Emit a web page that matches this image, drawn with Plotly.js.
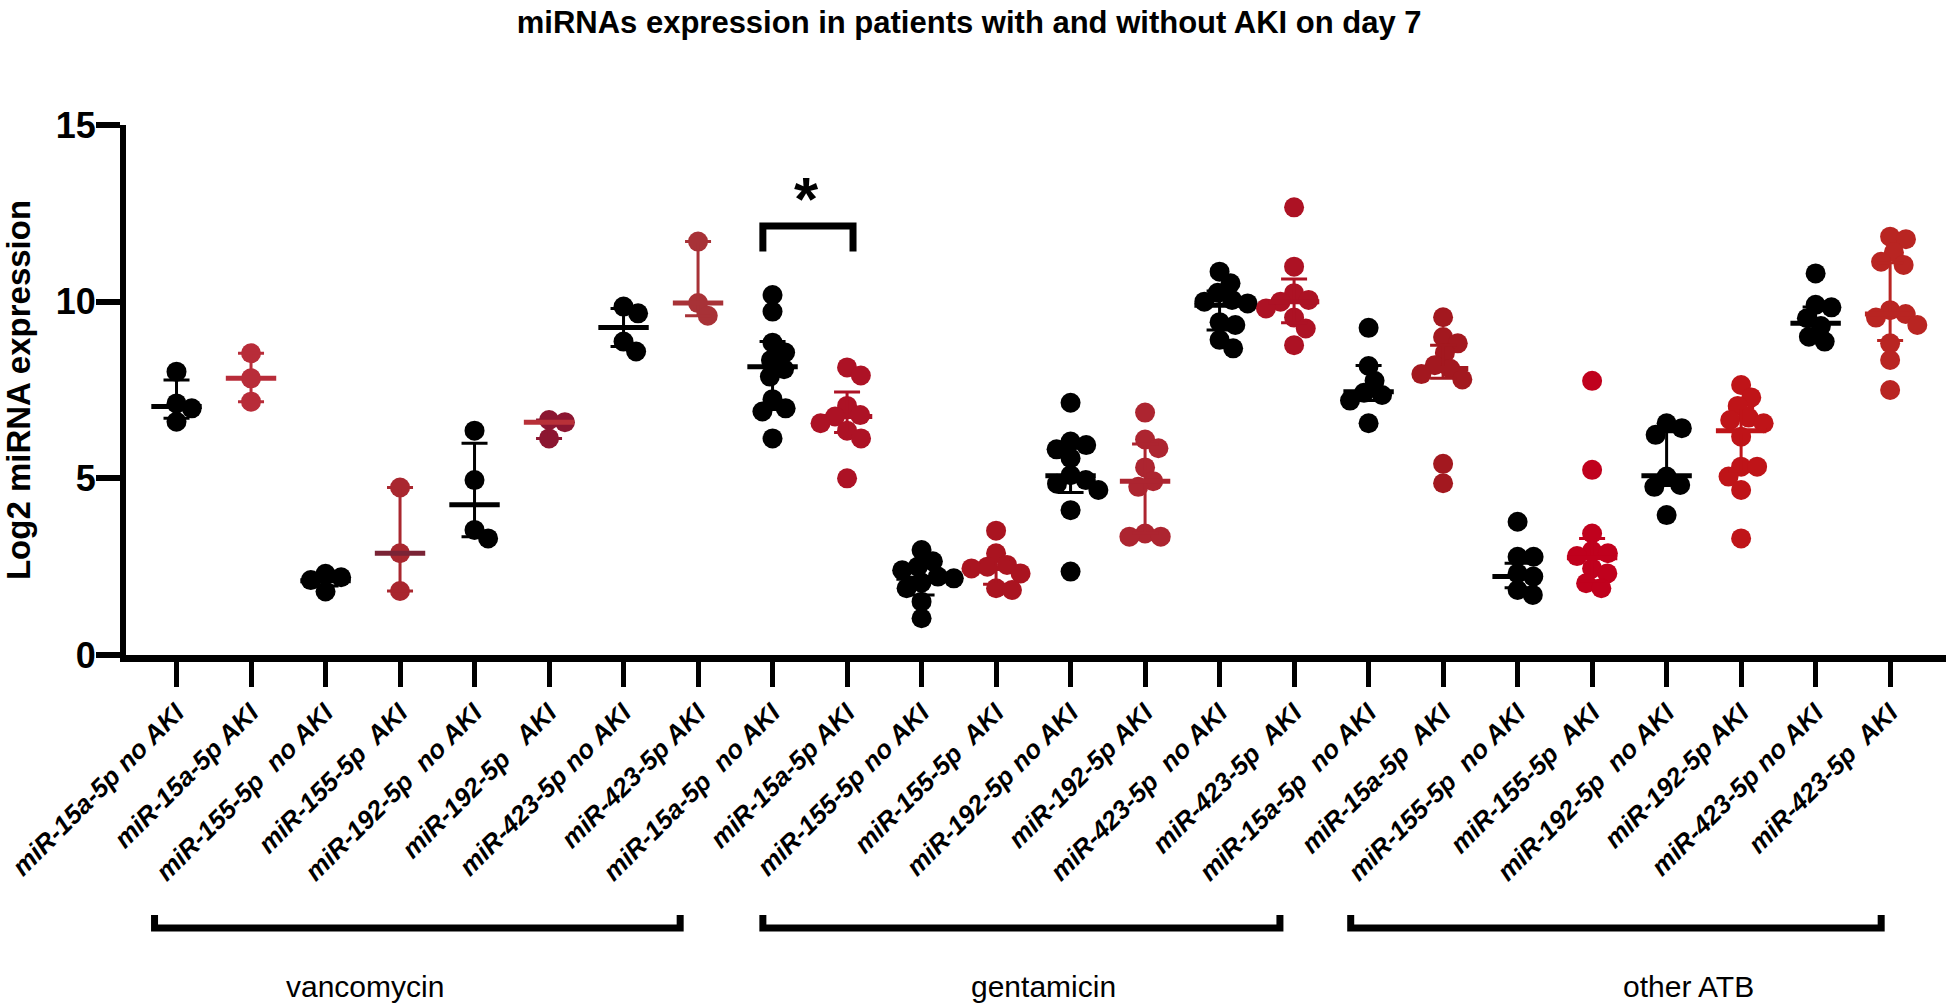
<!DOCTYPE html>
<html>
<head>
<meta charset="utf-8">
<script src="https://cdn.plot.ly/plotly-3.0.1.min.js"></script>
<style>html,body{margin:0;padding:0;background:#fff}#chart{width:1950px;height:1004px}</style>
</head>
<body>
<div id="chart"></div>
<script>
// ---------------- DATA ----------------
const categories = [
  "miR-15a-5p no AKI", "miR-15a-5p AKI", "miR-155-5p  no AKI", "miR-155-5p  AKI",
  "miR-192-5p  no AKI", "miR-192-5p   AKI", "miR-423-5p no AKI", "miR-423-5p AKI",
  "miR-15a-5p  no AKI", "miR-15a-5p AKI", "miR-155-5p no AKI", "miR-155-5p  AKI",
  "miR-192-5p no AKI", "miR-192-5p AKI", "miR-423-5p  no AKI", "miR-423-5p  AKI",
  "miR-15a-5p  no AKI", "miR-15a-5p  AKI", "miR-155-5p  no AKI", "miR-155-5p  AKI",
  "miR-192-5p  no AKI", "miR-192-5p AKI", "miR-423-5p no AKI", "miR-423-5p  AKI"
];
const groupLabels = ["vancomycin", "gentamicin", "other ATB"];

// vancomycin
const van_15a_noAKI  = [8.02, 7.12, 6.98, 6.60];
const van_15a_AKI    = [8.54, 7.83, 7.17];
const van_155_noAKI  = [2.30, 2.20, 2.12, 1.80];
const van_155_AKI    = [4.74, 2.88, 1.81];
const van_192_noAKI  = [6.35, 4.95, 3.54, 3.30];
const van_192_AKI    = [6.65, 6.59, 6.13];
const van_423_noAKI  = [9.86, 9.67, 8.87, 8.59];
const van_423_AKI    = [11.70, 9.96, 9.60];
// gentamicin
const gen_15a_noAKI  = [10.19, 9.72, 8.84, 8.56, 8.35, 8.09, 7.88, 7.24, 6.98, 6.89, 6.13];
const gen_15a_AKI    = [8.14, 7.91, 7.05, 6.79, 6.75, 6.56, 6.35, 6.13, 5.00];
const gen_155_noAKI  = [2.97, 2.65, 2.50, 2.40, 2.22, 2.17, 2.05, 1.89, 1.51, 1.04];
const gen_155_AKI    = [3.52, 2.88, 2.55, 2.50, 2.45, 2.31, 1.89, 1.84];
const gen_192_noAKI  = [7.14, 6.04, 5.94, 5.82, 5.57, 5.09, 4.95, 4.85, 4.67, 4.10, 2.36];
const gen_192_AKI    = [6.86, 6.10, 5.85, 5.31, 4.92, 4.76, 3.44, 3.35, 3.35];
const gen_423_noAKI  = [10.85, 10.52, 10.25, 10.05, 10.00, 9.95, 9.42, 9.34, 8.92, 8.68];
const gen_423_AKI    = [12.67, 10.99, 10.24, 10.05, 10.00, 9.81, 9.55, 9.24, 8.77];
// other ATB
const oth_15a_noAKI  = [9.26, 8.18, 7.76, 7.42, 7.36, 7.20, 6.56];
const oth_15a_AKI    = [9.56, 9.00, 8.82, 8.55, 8.20, 8.10, 7.95, 7.80, 5.41, 4.86];
const oth_155_noAKI  = [3.77, 2.78, 2.78, 2.31, 2.22, 1.84, 1.70];
const oth_155_AKI    = [7.76, 5.24, 3.44, 2.95, 2.88, 2.80, 2.45, 2.31, 2.03, 1.89];
const oth_192_noAKI  = [6.56, 6.42, 6.23, 5.05, 4.81, 4.76, 3.96];
const oth_192_AKI    = [7.64, 7.29, 7.05, 6.72, 6.65, 6.56, 6.18, 5.33, 5.33, 5.05, 4.67, 3.30];
const oth_423_noAKI  = [10.80, 9.91, 9.84, 9.53, 9.31, 9.01, 8.87];
const oth_423_AKI    = [11.84, 11.77, 11.40, 11.13, 11.04, 9.76, 9.65, 9.55, 9.34, 8.82, 8.35, 7.50];

// median and interquartile range
const medians = [7.03, 7.83, 2.10, 2.88, 4.25, 6.59, 9.27, 9.96,
                 8.16, 6.75, 2.17, 2.45, 5.07, 4.92, 9.90, 10.00,
                 7.45, 8.11, 2.22, 2.75, 5.07, 6.35, 9.39, 9.65];
const q1 =      [6.70, 7.17, 1.95, 1.81, 3.35, 6.13, 8.73, 9.60,
                 6.95, 6.30, 1.70, 2.00, 4.60, 3.45, 9.20, 9.40,
                 7.20, 7.83, 1.90, 2.10, 4.80, 5.20, 9.10, 8.90];
const q3 =      [7.78, 8.54, 2.25, 4.74, 5.99, 6.65, 9.81, 11.70,
                 8.87, 7.44, 2.50, 2.70, 5.85, 5.97, 10.30, 10.64,
                 8.19, 8.77, 2.60, 3.30, 6.32, 6.99, 9.85, 11.10];

const series = [
  van_15a_noAKI, van_15a_AKI, van_155_noAKI, van_155_AKI, van_192_noAKI, van_192_AKI, van_423_noAKI, van_423_AKI,
  gen_15a_noAKI, gen_15a_AKI, gen_155_noAKI, gen_155_AKI, gen_192_noAKI, gen_192_AKI, gen_423_noAKI, gen_423_AKI,
  oth_15a_noAKI, oth_15a_AKI, oth_155_noAKI, oth_155_AKI, oth_192_noAKI, oth_192_AKI, oth_423_noAKI, oth_423_AKI
];

// ---------------- STYLE ----------------
const K = '#000000';
const pointColors = [K, '#b82c39', K, '#a9272f', K, '#8c1631', K, '#a83237',
                     K, '#ad1225', K, '#aa1420', K, '#ad2530', K, '#ad1224',
                     K, '#a3181f', K, '#c0011d', K, '#bf1418', K, '#b92522'];
const medianColors = pointColors.slice();
medianColors[3] = '#7a2335';
medianColors[5] = '#b83038';

const W = 1950, H = 1004;
const M = {l: 126, r: 4, t: 125, b: 349};
const xRange = [-0.678, 23.75];
const yRange = [0, 15];
const plotW = W - M.l - M.r, plotH = H - M.t - M.b;
const pxPerX = plotW / (xRange[1] - xRange[0]);
const pxPerY = plotH / (yRange[1] - yRange[0]);
const DOT = 20;

// beeswarm layout (pixel space) for horizontal spread of dots
function swarm(vals) {
  const D = DOT * 0.8;
  const placed = [];
  const out = [];
  vals.forEach(v => {
    const y = v * pxPerY;
    const iv = [];
    placed.forEach(p => {
      const dy = Math.abs(p.y - y);
      if (dy < D) { const hw = Math.sqrt(D * D - dy * dy); iv.push([p.x - hw, p.x + hw]); }
    });
    const cands = [0];
    iv.forEach(a => cands.push(a[0], a[1]));
    cands.sort((a, b) => (Math.abs(a) - Math.abs(b)) || (b - a));
    const ok = c => iv.every(a => c <= a[0] + 1e-6 || c >= a[1] - 1e-6);
    const x = cands.find(ok);
    placed.push({x: x, y: y});
    out.push(x / pxPerX);
  });
  return out;
}

const traces = [];
series.forEach((vals, i) => {
  const offs = swarm(vals);
  traces.push({
    type: 'scatter', mode: 'markers',
    x: offs.map(o => i + o), y: vals,
    marker: {color: pointColors[i], size: DOT, line: {width: 0}},
    hoverinfo: 'y', showlegend: false
  });
});
series.forEach((vals, i) => {
  traces.push({
    type: 'scatter', mode: 'markers',
    x: [i], y: [medians[i]],
    marker: {symbol: 'line-ew', size: 36, line: {width: 5, color: medianColors[i]}, color: medianColors[i]},
    error_y: {type: 'data', symmetric: false,
              array: [q3[i] - medians[i]], arrayminus: [medians[i] - q1[i]],
              color: pointColors[i], thickness: 3, width: 13},
    hoverinfo: 'skip', showlegend: false
  });
});

const tickText = categories.map(s => s.replace(/ (?= )/g, '\u00a0'));

const FONT = 'Liberation Sans, Arial, Helvetica, sans-serif';

// group bracket spans (category units) and label centres
const bracketSpans = [[-0.295, 6.76], [7.87, 14.81], [15.76, 22.88]];
const bracketLabelX = [2.53, 11.64, 20.29];

const shapes = [];
bracketSpans.forEach(s => {
  shapes.push({type: 'path', xref: 'x', yref: 'paper',
    path: `M ${s[0]},-0.4906 L ${s[0]},-0.515 L ${s[1]},-0.515 L ${s[1]},-0.4906`,
    line: {color: '#000', width: 7}});
});
// significance bracket between gentamicin miR-15a no AKI / AKI
shapes.push({type: 'path', xref: 'x', yref: 'y',
  path: 'M 7.87,11.42 L 7.87,12.14 L 9.08,12.14 L 9.08,11.42',
  line: {color: '#000', width: 7}});

const annotations = groupLabels.map((t, k) => ({
  text: t, xref: 'x', yref: 'paper', x: bracketLabelX[k], y: -0.626,
  showarrow: false, xanchor: 'center', yanchor: 'middle',
  font: {family: FONT, size: 30, color: '#000'}
}));
annotations.push({text: '*', xref: 'x', yref: 'y', x: 8.46, y: 12.92,
  showarrow: false, xanchor: 'center', yanchor: 'middle',
  font: {family: FONT, size: 62, color: '#000', weight: 'bold'}});

const layout = {
  width: W, height: H,
  margin: M,
  paper_bgcolor: '#fff', plot_bgcolor: '#fff',
  showlegend: false,
  title: {text: 'miRNAs expression in patients with and without AKI on day 7',
          x: 0.497, xanchor: 'center', xref: 'container', y: 0.978, yanchor: 'middle', yref: 'container',
          font: {family: FONT, size: 31, color: '#000', weight: 'bold'}},
  xaxis: {
    range: xRange, showgrid: false, zeroline: false,
    showline: true, linecolor: '#000', linewidth: 7,
    ticks: 'outside', ticklen: 25, tickwidth: 5, tickcolor: '#000',
    tickmode: 'array', tickvals: categories.map((c, i) => i), ticktext: tickText,
    tickangle: -45,
    tickfont: {family: FONT, size: 26, color: '#000', weight: 'bold', style: 'italic'}
  },
  yaxis: {
    range: yRange, showgrid: false, zeroline: false,
    showline: true, linecolor: '#000', linewidth: 6,
    ticks: 'outside', ticklen: 24, tickwidth: 6, tickcolor: '#000',
    ticklabelstandoff: -7,
    tickmode: 'array', tickvals: [0, 5, 10, 15], ticktext: ['0', '5', '10', '15'],
    tickfont: {family: FONT, size: 36, color: '#000', weight: 'bold'},
    title: {text: 'Log2 miRNA expression', standoff: 24,
            font: {family: FONT, size: 33, color: '#000', weight: 'bold'}}
  },
  shapes: shapes,
  annotations: annotations
};

Plotly.newPlot('chart', traces, layout, {displayModeBar: false, responsive: false});
</script>
</body>
</html>
